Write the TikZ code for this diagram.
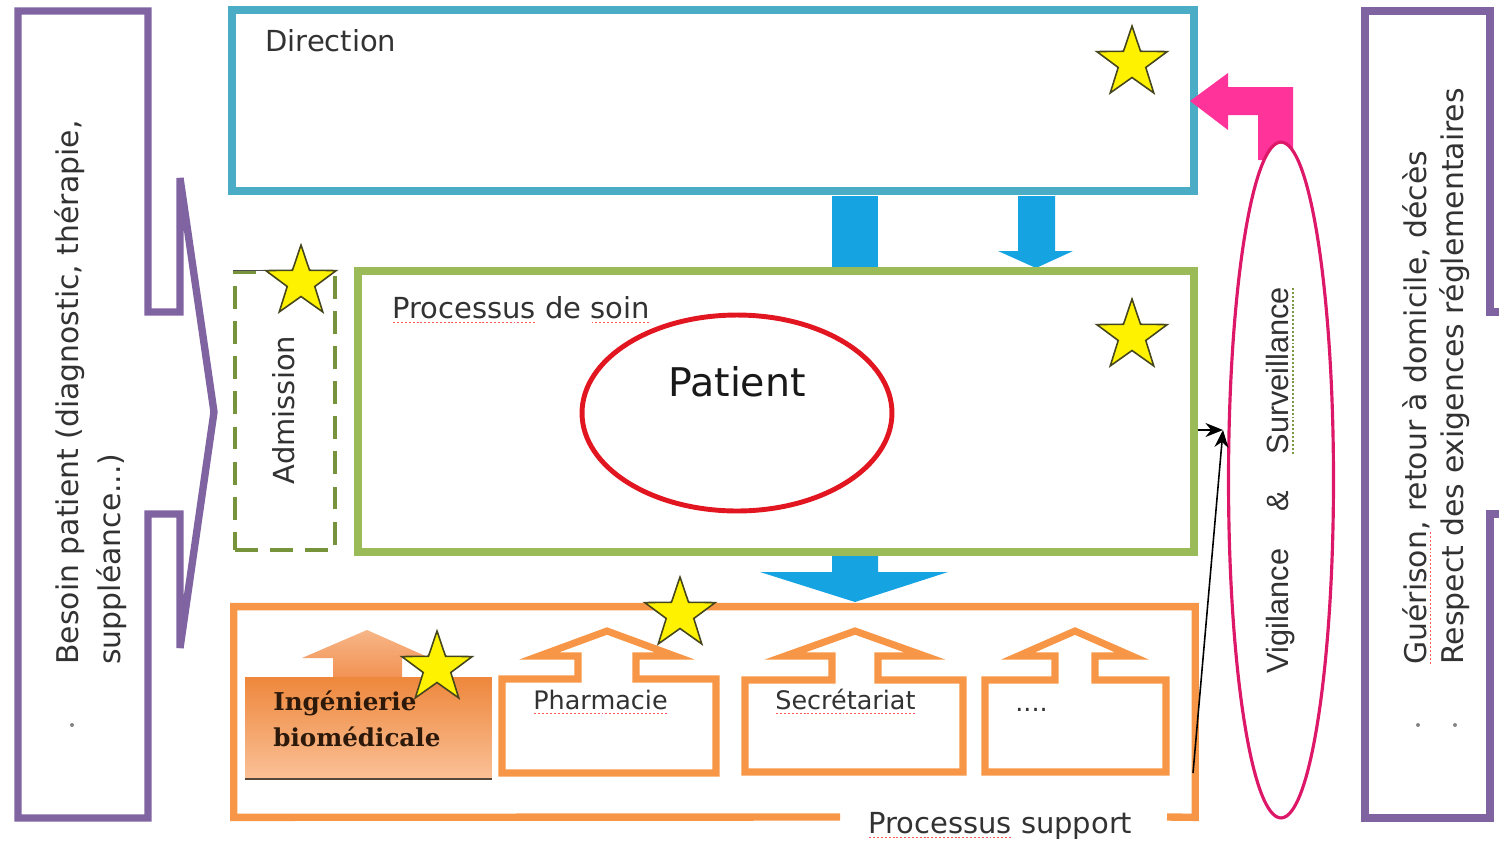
\documentclass[tikz,border=0pt]{standalone}
\usepackage{fontspec}
\setmainfont{DejaVu Sans}
\newfontfamily\vigfont{Liberation Sans}
\newfontfamily\ingfont{DejaVu Serif}
\usetikzlibrary{shapes.geometric,arrows.meta}
\definecolor{dircol}{RGB}{75,172,198}
\definecolor{soincol}{RGB}{155,187,89}
\definecolor{admcol}{RGB}{119,147,60}
\definecolor{supcol}{RGB}{247,150,70}
\definecolor{bluearr}{RGB}{22,163,226}
\definecolor{pinkarr}{RGB}{255,51,153}
\definecolor{vigcol}{RGB}{222,24,104}
\definecolor{patcol}{RGB}{226,22,32}
\definecolor{purp}{RGB}{128,100,162}
\definecolor{txt}{RGB}{50,50,50}
\definecolor{starline}{RGB}{70,70,30}
\definecolor{ingtop}{RGB}{238,135,60}
\definecolor{ingbot}{RGB}{250,192,150}
\definecolor{ingarrtop}{RGB}{247,182,135}
\definecolor{ingarrbot}{RGB}{242,145,82}
\definecolor{ingtxt}{RGB}{45,25,10}
\newsavebox\sqbox
\newcommand\squig[2]{\sbox\sqbox{#2}\rlap{\textcolor{#1}{\hbox to \wd\sqbox{\xleaders\hbox to 2.2pt{\hss\rule[-2.6pt]{1.1pt}{0.6pt}\hss}\hfill}}}\usebox\sqbox}
\newcommand\redsq[1]{\squig{red!65}{#1}}
\newcommand\greensq[1]{\squig{soincol!80!black}{#1}}
% up-arrow callout outline: cx, L, R, T, B, shaft half width, head half width, head base y, tip y
\newcommand\upcallout[9]{%
  \draw[callout] (#2,#5) -- (#2,#4) -- ({#1-#6},#4) -- ({#1-#6},#8) -- ({#1-#7},#8) -- (#1,#9)
    -- ({#1+#7},#8) -- ({#1+#6},#8) -- ({#1+#6},#4) -- (#3,#4) -- (#3,#5) -- cycle;}
\begin{document}
\begin{tikzpicture}[x=0.02cm,y=-0.02cm,
  box/.style={draw, rectangle, inner sep=0, line width=4.2pt},
  lbl/.style={inner sep=0, text=txt, font=\fontsize{16.5}{20}\selectfont},
  stardec/.style={star, star points=5, star point ratio=2.55, minimum size=1.48cm, inner sep=0, fill=yellow, draw=starline, line width=0.9pt},
  barr/.style={fill=bluearr, draw=none},
  callout/.style={draw=supcol, line width=4pt, line join=miter},
  link/.style={-{Stealth[length=10pt,width=8pt]}, line width=0.9pt, black},
  sidebox/.style={draw=purp, line width=4.2pt, line join=miter}]
\useasboundingbox (0,0) rectangle (1499,843);

% side input / output shapes
\draw[sidebox] (18,11) -- (148,11) -- (148,312) -- (180,312) -- (180,178) -- (214,412) -- (180,648)
  -- (180,514) -- (148,514) -- (148,818) -- (18,818) -- cycle;
\draw[sidebox] (1510,312) -- (1490,312) -- (1490,11) -- (1365,11) -- (1365,818) -- (1490,818) -- (1490,514) -- (1510,514);

% Direction
\node[box, draw=dircol, minimum width=19.24cm, minimum height=3.62cm] (dir) at (713,100.5) {};

% blue arrows
\fill[barr] (832,196) rectangle (878,268);
\fill[barr] (1018,196) -- (1055,196) -- (1055,251) -- (1073,251) -- (1036,268) -- (998,251) -- (1018,251) -- cycle;
\fill[barr] (832,556) -- (878,556) -- (878,572) -- (948,572) -- (855,602) -- (760,572) -- (832,572) -- cycle;

% Processus de soin
\node[box, draw=soincol, minimum width=16.72cm, minimum height=5.62cm] (soin) at (776,411.5) {};
% Admission
\node[rectangle, draw=admcol, line width=1.8pt, dash pattern=on 13pt off 7pt, minimum width=2cm, minimum height=5.56cm, inner sep=0] (adm) at (285,411) {};
\draw[black!70, line width=1pt] (adm.north west) -- (adm.north east);
% Patient
\node[ellipse, draw=patcol, line width=2.8pt, minimum width=6.2cm, minimum height=3.92cm, inner sep=0] (pat) at (737,413) {};

% Processus support
\node[minimum width=19.22cm, minimum height=4.2cm, inner sep=0] (sup) at (714.5,712) {};
\draw[supcol, line width=4.2pt, line join=miter] (840,817) -- (sup.south west) -- (sup.north west) -- (sup.north east) -- (sup.south east) -- (1167,817);

% support items
\upcallout{607}{502}{716}{679}{773}{29}{68}{656}{631}
\upcallout{855}{745}{963}{680}{772}{23}{70}{656}{631}
\upcallout{1075}{985}{1166}{680}{772}{20}{57}{656}{631}
\shade[top color=ingarrtop, bottom color=ingarrbot] (333,679) -- (333,658) -- (302,658) -- (367,630) -- (430,658) -- (402,658) -- (402,679) -- cycle;
\node[rectangle, top color=ingtop, bottom color=ingbot, minimum width=4.94cm, minimum height=2.02cm, inner sep=0] (ingbox) at (368.5,727.5) {};
\draw[ingtxt!80, line width=1.4pt] ([yshift=-0.5pt]ingbox.south west) -- ([yshift=-0.5pt]ingbox.south east);

% pink bent arrow
\fill[pinkarr] (1190,101) -- (1228,73) -- (1228,87) -- (1293,87) -- (1293,160) -- (1258,160) -- (1258,115) -- (1228,115) -- (1228,130) -- cycle;
% Vigilance ellipse
\node[ellipse, draw=vigcol, line width=1.8pt, fill=white, minimum width=2.1cm, minimum height=13.52cm, inner sep=0] (vig) at (1281,480) {};

% texts
\node[lbl, anchor=base west] (dirt) at (265,51) {Direction};
\node[lbl, anchor=base west] (soint) at (392,318) {\redsq{Processus} de \redsq{soin}};
\node[lbl, rotate=90] (admt) at (284,410) {Admission};
\node[lbl, font=\fontsize{22.5}{26}\selectfont, text=black!90, anchor=base] (patt) at (737,396) {Patient};
\node[lbl, anchor=base west] (supt) at (868,833) {\redsq{Processus} support};
\node[lbl, font=\fontsize{14.5}{17}\selectfont, anchor=base west] (phar) at (533,709) {\redsq{Pharmacie}};
\node[lbl, font=\fontsize{14.5}{17}\selectfont, anchor=base west] (secr) at (775,709) {\redsq{Secrétariat}};
\node[lbl, font=\fontsize{14.5}{17}\selectfont, anchor=base west] (etc) at (1015,711) {....};
\node[inner sep=0, anchor=base west, font=\ingfont\bfseries\fontsize{14}{17}\selectfont, text=ingtxt] (ing1) at (273,710) {Ingénierie};
\node[inner sep=0, anchor=base west, font=\ingfont\bfseries\fontsize{14}{17}\selectfont, text=ingtxt] (ing2) at (273,746) {biomédicale};
\node[rotate=90, inner sep=0, text=txt, font=\vigfont\fontsize{17.5}{20}\selectfont] (vigt) at (1281,480) {Vigilance\hspace{1.2em}\&\hspace{1.2em}\greensq{Surveillance}};
\node[lbl, rotate=90, anchor=west, align=left, font=\fontsize{17}{23.8}\selectfont] (besoin) at (91,665) {Besoin patient (diagnostic, thérapie,\\suppléance...)};
\node[lbl, rotate=90, anchor=west, align=left, font=\fontsize{17}{21}\selectfont] (result) at (1436.5,665) {\redsq{Guérison}, retour à domicile, décès\\Respect des exigences réglementaires};
\fill[txt!60] (72,725) circle (2);
\fill[txt!60] (1418,725) circle (2);
\fill[txt!60] (1455,725) circle (2);

% connectors
\coordinate (vin) at (1223,430);
\coordinate (sfrom) at (1193,773);
\draw[link] (soin.east |- vin) -- (vin);
\draw[link] (sfrom) -- (vin);

% stars
\node[stardec] (s1) at (1132,63) {};
\node[stardec] (s2) at (1132,336) {};
\node[stardec] (s3) at (301,282) {};
\node[stardec] (s4) at (680,614) {};
\node[stardec] (s5) at (437,668) {};
\end{tikzpicture}
\end{document}
